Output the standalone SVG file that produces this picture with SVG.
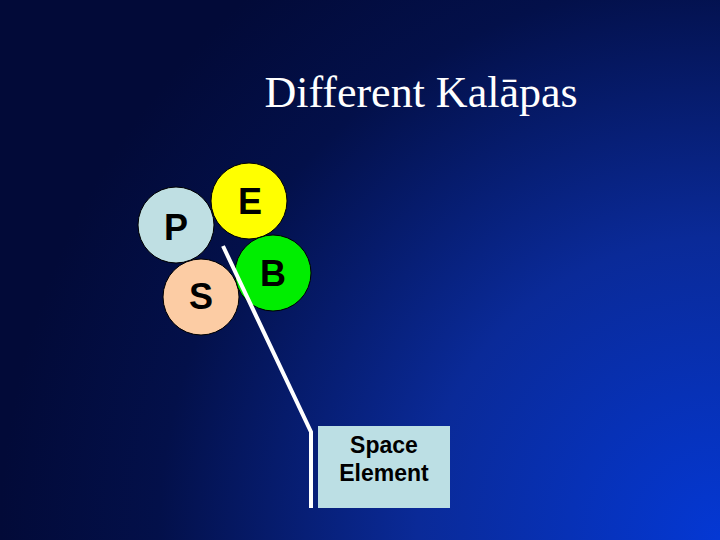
<svg xmlns="http://www.w3.org/2000/svg" width="720" height="540" viewBox="0 0 720 540">
  <defs>
    <radialGradient id="bg" gradientUnits="userSpaceOnUse" cx="720" cy="540" r="720">
      <stop offset="0" stop-color="#0438d4"/>
      <stop offset="0.42" stop-color="#0a2a98"/>
      <stop offset="0.78" stop-color="#03104a"/>
      <stop offset="1" stop-color="#020a38"/>
    </radialGradient>
    <style>
      .c { stroke: #000; stroke-width: 1; }
      .lbl { font-family: "Liberation Sans", Arial, sans-serif; font-weight: bold; font-size: 36px; fill: #000; text-anchor: middle; }
      .box { font-family: "Liberation Sans", Arial, sans-serif; font-weight: bold; font-size: 23px; fill: #000; text-anchor: middle; }
    </style>
  </defs>
  <rect x="0" y="0" width="720" height="540" fill="url(#bg)"/>
  <text x="421" y="107" font-family="'Liberation Serif', 'Times New Roman', serif" font-size="44" fill="#fff" text-anchor="middle">Different Kalāpas</text>

  <g id="node-P">
    <circle class="c" cx="176" cy="225" r="38" fill="#bfdfe3"/>
    <text class="lbl" x="176" y="240">P</text>
  </g>
  <g id="node-E">
    <circle class="c" cx="249" cy="201" r="38" fill="#ffff00"/>
    <text class="lbl" x="250" y="214">E</text>
  </g>
  <g id="node-S">
    <circle class="c" cx="201" cy="297" r="38" fill="#fccca4"/>
    <text class="lbl" x="201" y="309">S</text>
  </g>
  <g id="node-B">
    <circle class="c" cx="273" cy="273" r="38" fill="#00ee00"/>
    <text class="lbl" x="273" y="286">B</text>
  </g>

  <g id="connectors">
    <polyline points="223,246 311,432 311,508" fill="none" stroke="#fff" stroke-width="4"/>
  </g>

  <g id="node-space">
    <rect x="318" y="426" width="132" height="82" fill="#bcdfe4"/>
    <text class="box" x="384" y="453">Space</text>
    <text class="box" x="384" y="481">Element</text>
  </g>
</svg>
